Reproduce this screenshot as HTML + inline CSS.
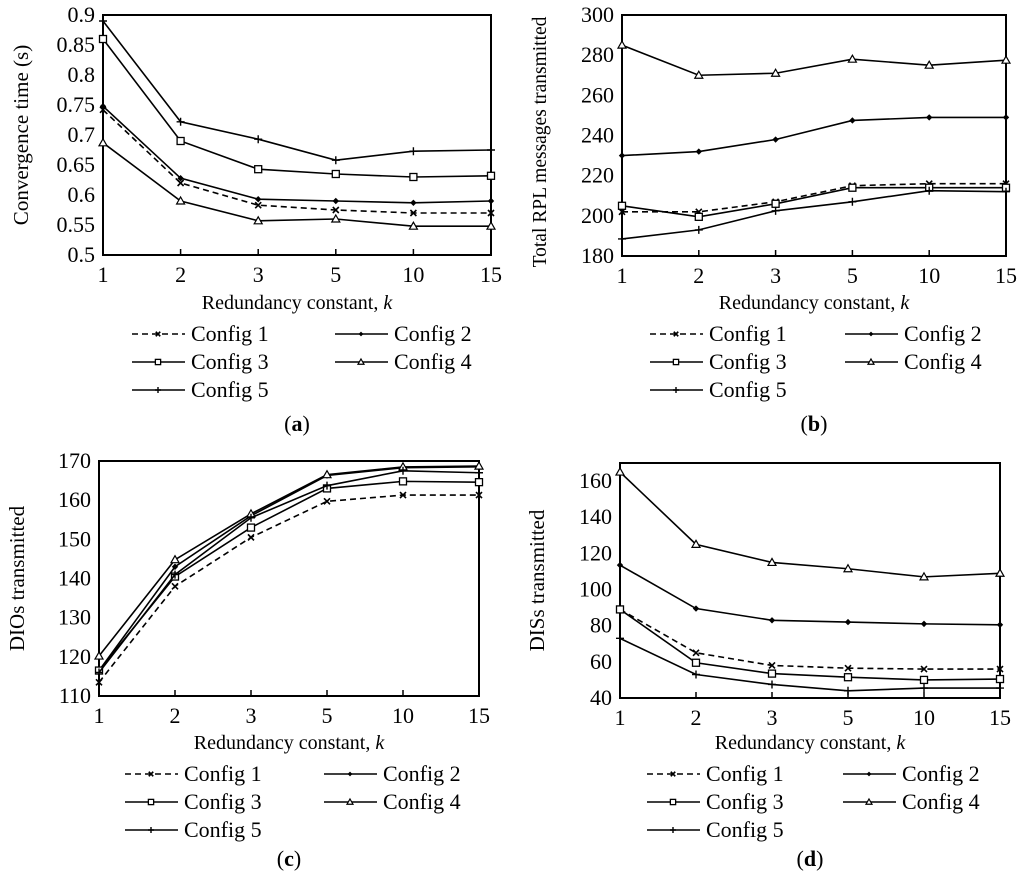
<!DOCTYPE html>
<html><head><meta charset="utf-8"><style>
html,body{margin:0;padding:0;background:#fff;}
svg{display:block;font-family:"Liberation Serif",serif;}
</style></head><body>
<svg id="fig" width="1024" height="885" viewBox="0 0 1024 885" xmlns="http://www.w3.org/2000/svg"></svg>
<script>
const categories = ["1","2","3","5","10","15"];
const seriesNames = ["Config 1","Config 2","Config 3","Config 4","Config 5"];
// (a) convergence time
const convC1 = [0.742,0.62,0.583,0.575,0.57,0.57];
const convC2 = [0.748,0.628,0.593,0.59,0.587,0.59];
const convC3 = [0.86,0.69,0.643,0.635,0.63,0.632];
const convC4 = [0.687,0.59,0.557,0.56,0.548,0.548];
const convC5 = [0.89,0.722,0.693,0.658,0.673,0.675];
const convTicks = ["0.5","0.55","0.6","0.65","0.7","0.75","0.8","0.85","0.9"];
// (b) total RPL messages
const rplC1 = [202,202,207,215,216,216];
const rplC2 = [230,232,238,247.5,249,249];
const rplC3 = [205,199.5,206,214,214,214];
const rplC4 = [285,270,271,278,275,277.5];
const rplC5 = [188.5,193,202.5,207,212.5,212];
const rplTicks = ["180","200","220","240","260","280","300"];
// (c) DIOs
const dioC1 = [113.5,138,150.5,159.7,161.3,161.3];
const dioC2 = [116.5,143,156,166.3,168.3,168.5];
const dioC3 = [116.5,140.5,153,163,164.8,164.6];
const dioC4 = [120.2,144.8,156.5,166.5,168.5,168.7];
const dioC5 = [116,141,155.5,163.7,167.5,167];
const dioTicks = ["110","120","130","140","150","160","170"];
// (d) DISs
const disC1 = [89,65,58,56.5,56,56];
const disC2 = [113.5,89.5,83,82,81,80.5];
const disC3 = [89,59.5,53.5,51.5,50,50.5];
const disC4 = [165,125,115,111.5,107,109];
const disC5 = [73,53,47.5,44,45.5,45.5];
const disTicks = ["40","60","80","100","120","140","160"];

const NS="http://www.w3.org/2000/svg";
const svg=document.getElementById('fig');
function mk(tag,attrs,parent){const e=document.createElementNS(NS,tag);for(const k in attrs)e.setAttribute(k,attrs[k]);(parent||svg).appendChild(e);return e;}
function txt(s,attrs,parent){const e=mk('text',attrs,parent);e.textContent=s;return e;}

function marker(g,type,x,y,s){
  s=s||1;
  if(type===0){const a=3*s;mk('path',{d:`M${x-a},${y-a}L${x+a},${y+a}M${x-a},${y+a}L${x+a},${y-a}`,stroke:'#000','stroke-width':1.6,fill:'none'},g);}
  else if(type===1){const a=3.2*s;mk('path',{d:`M${x},${y-a}L${x+a},${y}L${x},${y+a}L${x-a},${y}Z`,fill:'#000'},g);}
  else if(type===2){const a=3.5*s;mk('rect',{x:x-a,y:y-a,width:2*a,height:2*a,fill:'#fff',stroke:'#000','stroke-width':1.3},g);}
  else if(type===3){const a=4*s;mk('path',{d:`M${x},${y-a}L${x+a},${y+a*0.75}L${x-a},${y+a*0.75}Z`,fill:'#fff',stroke:'#000','stroke-width':1.2},g);}
  else {const a=4*s;mk('path',{d:`M${x-a},${y}L${x+a},${y}M${x},${y-a}L${x},${y+a}`,stroke:'#000','stroke-width':1.4},g);}
}

function panel(o){
  const g=mk('g',{});
  
  
  const L=o.L,R=o.R,T=o.T,B=o.B;
  const xs=i=>L+(R-L)*i/(categories.length-1);
  const ys=v=>B-(v-o.min)/(o.max-o.min)*(B-T);
  const frame=mk('rect',{x:L,y:T,width:R-L,height:B-T,fill:'none',stroke:'#000','stroke-width':2},g);
  
  
  o.ticks.forEach(t=>{
    const y=ys(parseFloat(t));
    const e=txt(t,{x:L-8,y:y+7,'text-anchor':'end','font-size':22},g);
    
    
  });
  categories.forEach((c,i)=>{
    const x=xs(i);
    mk('line',{x1:x,y1:B,x2:x,y2:B-6,stroke:'#000','stroke-width':1.5},g);
    const e=txt(c,{x:x,y:B+27,'text-anchor':'middle','font-size':22},g);
    
    
  });
  const yt=txt(o.ylabel,{x:0,y:0,'text-anchor':'middle','font-size':o.ysz||21,transform:`translate(${o.yx},${o.ymid||(T+B)/2}) rotate(-90)`},g);
  
  
  const xt=txt('Redundancy constant, ',{x:(L+R)/2,y:o.xlY,'text-anchor':'middle','font-size':20},g);
  const ki=mk('tspan',{'font-style':'italic'},xt);ki.textContent='k';
  
  
  o.series.forEach((arr,si)=>{
    const sg=mk('g',{},g);
    
    
    const pts=arr.map((v,i)=>xs(i)+','+ys(v)).join(' ');
    mk('polyline',{points:pts,fill:'none',stroke:'#000','stroke-width':1.6,'stroke-dasharray':si===0?'6,4':'none'},sg);
    arr.forEach((v,i)=>marker(sg,si,xs(i),ys(v),1));
  });
  const lg=mk('g',{},g);
  
  
  seriesNames.forEach((n,si)=>{
    const col=si%2,row=Math.floor(si/2);
    const x0=o.legX[col],y0=o.legY+row*28;
    const eg=mk('g',{},lg);
    
    
    mk('line',{x1:x0,y1:y0,x2:x0+53,y2:y0,stroke:'#000','stroke-width':1.6,'stroke-dasharray':si===0?'6,4':'none'},eg);
    marker(eg,si,x0+26,y0,0.75);
    txt(n,{x:x0+59,y:y0+7,'font-size':22},eg);
  });
  const cap=mk('text',{x:(L+R)/2,y:o.capY,'text-anchor':'middle','font-size':22},g);
  
  
  cap.appendChild(document.createTextNode('('));
  const b=mk('tspan',{'font-weight':'bold'},cap);b.textContent=o.cap;
  cap.appendChild(document.createTextNode(')'));
}

panel({name:'chart-a-convergence-time',L:103,R:491,T:15,B:255,min:0.5,max:0.9,ticks:convTicks,ylabel:'Convergence time (s)',yx:28,
  series:[convC1,convC2,convC3,convC4,convC5],xlY:309,legX:[132,335],legY:334,capY:431,cap:'a'});
panel({name:'chart-b-total-rpl-messages',L:622,R:1006,T:15,B:256,min:180,max:300,ticks:rplTicks,ylabel:'Total RPL messages transmitted',yx:546,ysz:19.5,ymid:142,
  series:[rplC1,rplC2,rplC3,rplC4,rplC5],xlY:309,legX:[650,845],legY:334,capY:431,cap:'b'});
panel({name:'chart-c-dios-transmitted',L:99,R:479,T:461,B:696,min:110,max:170,ticks:dioTicks,ylabel:'DIOs transmitted',yx:24,
  series:[dioC1,dioC2,dioC3,dioC4,dioC5],xlY:749,legX:[125,324],legY:774,capY:866,cap:'c'});
panel({name:'chart-d-diss-transmitted',L:620,R:1000,T:463,B:698,min:40,max:170,ticks:disTicks,ylabel:'DISs transmitted',yx:544,
  series:[disC1,disC2,disC3,disC4,disC5],xlY:749,legX:[647,843],legY:774,capY:866,cap:'d'});
</script>
</body></html>
